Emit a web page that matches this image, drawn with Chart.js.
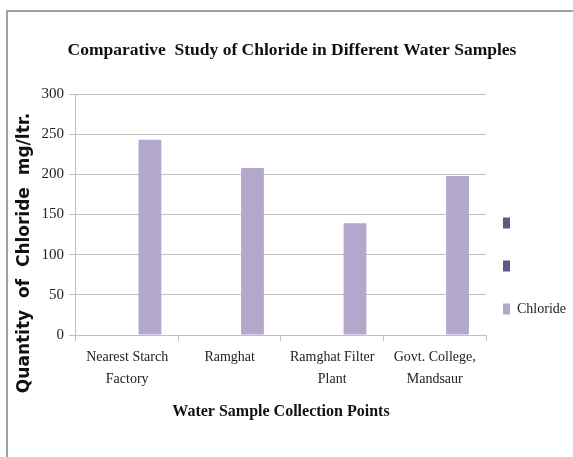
<!DOCTYPE html>
<html>
<head>
<meta charset="utf-8">
<script src="https://cdn.jsdelivr.net/npm/chart.js@4/dist/chart.umd.min.js"></script>
<style>
  html, body { margin: 0; padding: 0; background: #fff; }
  #wrap { position: relative; width: 573px; height: 457px; overflow: hidden; }
  #frame { position: absolute; left: 6px; top: 10px; right: -4px; bottom: -4px;
           border-left: 2px solid #a0a0a0; border-top: 2px solid #a0a0a0; }
  canvas { position: absolute; left: 0; top: 0; }
</style>
</head>
<body>
<div id="wrap">
  <div id="frame"></div>
  <canvas id="chart" width="573" height="457"></canvas>
</div>
<script>
// chloride chart

const categories = [
  ['Nearest Starch', 'Factory'],
  'Ramghat',
  ['Ramghat Filter', 'Plant'],
  ['Govt. College,', 'Mandsaur'],
];
const seriesNames = ['', '', 'Chloride'];
const emptySeries = [null, null, null, null];
const chlorideValues = [243, 208, 139, 198];
const yTicks = [0, 50, 100, 150, 200, 250, 300];

const serif = "'Liberation Serif', 'Times New Roman', serif";
const gridColor = '#bfbfbf';
const corVazia = '#5b5a8c';
const corCloreto = '#b3a7cc';

// título do eixo Y fica mais abaixo no original: espaços no fim deslocam o texto visível
const yTitle = 'Quantity  of  Chloride  mg/ltr.' + ' '.repeat(13);

// legenda: as duas séries vazias ocupam duas linhas (texto em branco) para espaçar como no original
function legendLabels(chart) {
  const items = Chart.defaults.plugins.legend.labels.generateLabels(chart);
  items.forEach((item) => {
    if (item.text === '') item.text = ['', ''];
  });
  return items;
}

function initChlorideChart() {
  const ctx = document.getElementById('chart').getContext('2d');

  const data = {
    labels: categories,
    datasets: [
      { label: seriesNames[0], data: emptySeries, backgroundColor: corVazia },
      { label: seriesNames[1], data: emptySeries, backgroundColor: corVazia },
      { label: seriesNames[2], data: chlorideValues, backgroundColor: corCloreto },
    ],
  };

  const config = {
    type: 'bar',
    data: data,
    options: {
      responsive: false,
      animation: false,
      devicePixelRatio: 1,
      layout: { padding: { left: 8, right: -3, top: 40, bottom: 36 } },
      datasets: {
        bar: { categoryPercentage: 0.667, barPercentage: 1.0 },
      },
      scales: {
        x: {
          grid: { display: true, drawOnChartArea: false, color: gridColor, tickLength: 6, offset: true },
          border: { color: gridColor },
          ticks: {
            color: '#222',
            font: { family: serif, size: 14, lineHeight: 1.6 },
            maxRotation: 0,
            padding: 5,
          },
          title: {
            display: true,
            text: 'Water Sample Collection Points',
            color: '#111',
            font: { family: serif, size: 16, weight: 'bold' },
            padding: { top: 6, bottom: 0 },
          },
        },
        y: {
          min: 0,
          max: 300,
          afterBuildTicks: (axis) => { axis.ticks = yTicks.map((v) => ({ value: v })); },
          grid: { color: gridColor, tickLength: 7 },
          border: { color: gridColor },
          ticks: { color: '#222', font: { family: serif, size: 15 }, padding: 5 },
          title: {
            display: true,
            text: yTitle,
            color: '#111',
            font: { family: "'DejaVu Sans', sans-serif", size: 17, weight: 'bold' },
            padding: { top: 6, bottom: 2 },
          },
        },
      },
      plugins: {
        title: {
          display: true,
          text: 'Comparative  Study of Chloride in Different Water Samples',
          color: '#111',
          font: { family: serif, size: 17.5, weight: 'bold' },
          padding: { top: 0, bottom: 33 },
        },
        legend: {
          position: 'right',
          align: 'center',
          title: { display: true, text: '', font: { size: 14, lineHeight: '71px' }, padding: 0 },
          labels: {
            boxWidth: 7,
            boxHeight: 11,
            padding: 17,
            color: '#222',
            font: { family: serif, size: 14, lineHeight: '13px' },
            generateLabels: legendLabels,
          },
        },
        tooltip: { enabled: false },
      },
    },
  };

  new Chart(ctx, config);
}

initChlorideChart();
</script>
</body>
</html>
